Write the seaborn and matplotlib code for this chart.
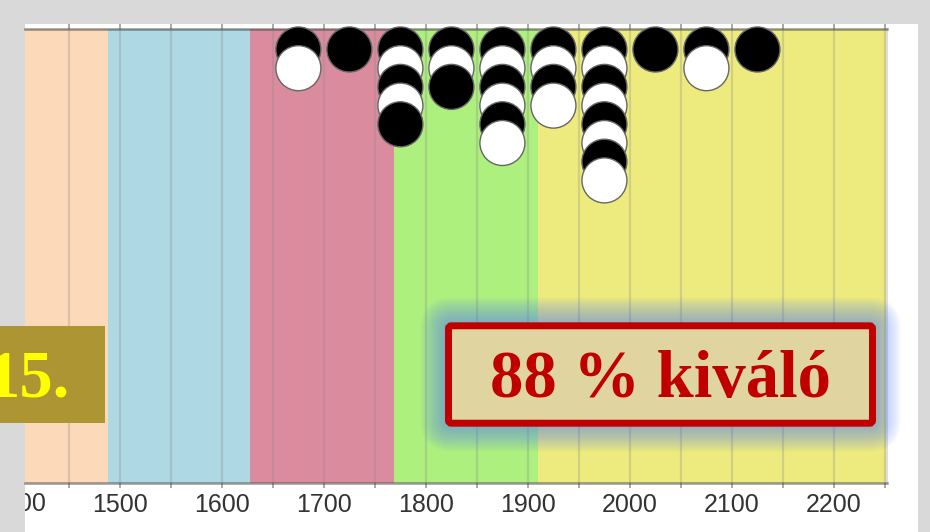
import matplotlib
matplotlib.use("Agg")
import pandas as pd
import matplotlib.pyplot as plt
import seaborn as sns
from matplotlib.patches import Rectangle, FancyBboxPatch
from matplotlib.transforms import IdentityTransform, Bbox
from matplotlib.ticker import MultipleLocator

# ---------------- data ----------------
bin_ratings = [1675, 1725, 1775, 1825, 1875, 1925, 1975, 2025, 2075, 2125]
stack_colors = ["BW", "B", "BWBWB", "BWB", "BWBWBW", "BWBW", "BWBWBWBW", "B", "BW", "B"]
band_edges = [1400, 1488, 1628, 1769, 1910, 2260]
band_colors = ["#FCD9B8", "#ADD8E4", "#DB8B9E", "#AEF07E", "#EDEB7D"]
tick_values = [1400, 1500, 1600, 1700, 1800, 1900, 2000, 2100, 2200]
tick_labels = [str(v) for v in tick_values]
badge_text = "15."
score_text = "88 % kiváló"

rows = []
for r, s in zip(bin_ratings, stack_colors):
    for lvl, c in enumerate(s):
        rows.append({"rating": r, "level": lvl, "color": c})
df = pd.DataFrame(rows)

sns.set_style("white")
plt.rcParams["font.family"] = ["Liberation Sans", "DejaVu Sans"]

W, H = 930, 532
fig = plt.figure(figsize=(9.3, 5.32), dpi=100, facecolor="#D9D9D9")


def fx(x):
    return x / W


def fy(y):
    return 1 - y / H


# white panel behind the chart
fig.add_artist(Rectangle((fx(25), 0), fx(918) - fx(25), fy(24), transform=fig.transFigure,
                         facecolor="white", edgecolor="none", zorder=-5))

ax = fig.add_axes([fx(25), fy(483), fx(887) - fx(25), (483 - 29) / H])
ax.set_facecolor("white")

for i, c in enumerate(band_colors):
    ax.axvspan(band_edges[i], band_edges[i + 1], color=c, lw=0, zorder=0)

sns.scatterplot(data=df, x="rating", y="level", hue="color",
                palette={"B": "black", "W": "white"}, s=1050,
                edgecolor="#666666", linewidth=1.0, legend=False, ax=ax,
                clip_on=False, zorder=3)

ax.set_xlabel("")
ax.set_ylabel("")
ax.set_yticks([])

ax.set_xticks(tick_values, tick_labels)
ax.xaxis.set_minor_locator(MultipleLocator(50))
ax.set_xlim(1407, 2252)
ax.set_ylim(23.18, -1.096)
ax.tick_params(axis="x", which="both", direction="out", length=3.6, width=1.4,
               color="#AAAAAA", top=True, bottom=True, labeltop=False,
               labelsize=18, labelcolor="#333333", pad=3.3)
ax.grid(axis="x", which="both", color="#8C8C8C", alpha=0.3, lw=1.6)
ax.set_axisbelow("line")

for side in ["top", "bottom"]:
    ax.spines[side].set_color("#505050")
    ax.spines[side].set_alpha(0.6)
    ax.spines[side].set_linewidth(1.8)
ax.spines["left"].set_visible(False)
ax.spines["right"].set_color("#DDDDDD")
ax.spines["right"].set_linewidth(1.4)

# partially visible first tick label (1400), clipped to the white panel
x1400 = ax.transData.transform((tick_values[0], 0))[0]
t = fig.text(x1400 / W, fy(492), tick_labels[0], ha="center", va="top",
             fontsize=18, color="#333333")
t.set_clip_on(True)
t.set_clip_box(Bbox([[25, 0], [918, H - 24]]))

# badge "15."
fig.add_artist(Rectangle((0, 532 - 422.7), 105, 96.7, transform=IdentityTransform(),
                         facecolor="#AE9534", edgecolor="none", zorder=10))
fig.text(fx(70), fy(396.5), badge_text, ha="right", va="baseline", fontsize=48,
         fontweight="bold", family=["Liberation Serif", "DejaVu Serif"],
         color="#FFFF00", zorder=11)

# glowing score box
bx0, bx1 = 448.5, 872.5
by0, by1 = H - 423.2, H - 325.8
for k in range(12):
    p = 28 - k * 2.3
    fig.add_artist(FancyBboxPatch((bx0 - p, by0 - p), (bx1 - bx0) + 2 * p, (by1 - by0) + 2 * p,
                                  boxstyle=f"round,pad=0,rounding_size={p + 4}",
                                  transform=IdentityTransform(), facecolor="#5078FF",
                                  edgecolor="none", alpha=0.06, zorder=8))
fig.add_artist(FancyBboxPatch((bx0, by0), bx1 - bx0, by1 - by0,
                              boxstyle="round,pad=0,rounding_size=3",
                              transform=IdentityTransform(), facecolor="#E0D4A0",
                              edgecolor="#C00000", lw=5.0, zorder=9))
fig.text(fx(660), fy(396.5), score_text, ha="center", va="baseline", fontsize=48,
         fontweight="bold", family=["Liberation Serif", "DejaVu Serif"],
         color="#C00000", zorder=10)

fig.savefig("out.png", dpi=100, facecolor=fig.get_facecolor())
